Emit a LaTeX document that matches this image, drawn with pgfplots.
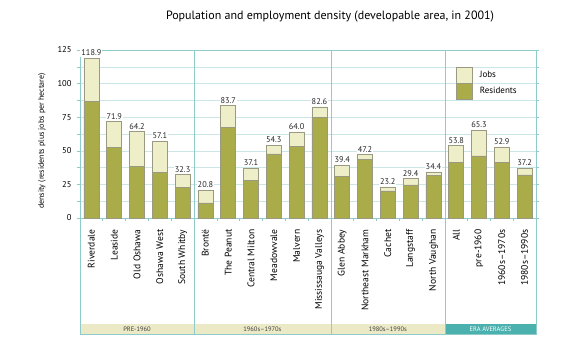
\documentclass[border=0pt]{standalone}
\usepackage{pgfplots}
\pgfplotsset{compat=1.18}
\usepackage{pgfplotstable}
\usepackage{fontspec}
\setmainfont{PT Sans}
\definecolor{res}{HTML}{A9AC48}
\definecolor{jobs}{HTML}{EEEEC8}
\definecolor{edge}{HTML}{9A9A82}
\definecolor{gridc}{HTML}{CBE6E6}
\definecolor{axisc}{HTML}{8ECBCB}
\definecolor{band}{HTML}{ECEAC6}
\definecolor{teal}{HTML}{4AB1AE}
\pgfplotsset{boxlegend/.style={legend image code/.code={\draw[##1] (0pt,-7.8pt) rectangle (16pt,7.8pt); \path (23pt,0pt);}}}
\pgfplotstableread{
x res total
0 86.6 118.9
1 52.4 71.9
2 38.6 64.2
3 33.7 57.1
4 22.9 32.3
5 11.3 20.8
6 67.6 83.7
7 27.8 37.1
8 47.7 54.3
9 53.4 64.0
10 74.8 82.6
11 31.2 39.4
12 43.5 47.2
13 20.1 23.2
14 24.6 29.4
15 31.5 34.4
16 41.5 53.8
17 46.2 65.3
18 41.3 52.9
19 32.0 37.2
}\data
\begin{document}
\begin{tikzpicture}
\begin{axis}[
  scale only axis, width=456pt, height=168pt,
  xmin=-0.5, xmax=19.5, ymin=0, ymax=125,
  clip=false,
  ybar, bar width=15pt,
  /pgf/number format/assume math mode=true,
  axis line style={axisc, line width=0.6pt},
  ytick={0,25,...,125},
  minor ytick={12.5,37.5,...,112.5},
  ymajorgrids, yminorgrids,
  grid style={gridc, line width=0.6pt},
  minor grid style={gridc, line width=0.6pt},
  tick align=outside,
  ytick pos=both,
  yticklabel pos=left,
  major tick length=3pt, minor tick length=3pt,
  tick style={axisc, line width=0.6pt},
  yticklabel style={font=\fontsize{8.5}{10}\selectfont, xshift=-2pt},
  xtick={0,...,19},
  xtick pos=lower,
  major x tick style={draw=none},
  minor xtick={0.5,1.5,...,18.5},
  xticklabels={Riverdale,Leaside,Old Oshawa,Oshawa West,South Whitby,Brontë,The Peanut,Central Milton,Meadowvale,Malvern,Mississauga Valleys,Glen Abbey,Northeast Markham,Cachet,Langstaff,North Vaughan,All,pre-1960,1960s–1970s,1980s–1990s},
  xticklabel style={yshift=-5pt, rotate=90, anchor=east, font=\fontsize{9.6}{11}\selectfont},
  legend style={at={(rel axis cs:0.825,0.899)}, anchor=north west, draw=none, fill=none,
    inner sep=0pt, row sep=0pt, column sep=0pt,
    nodes={inner sep=0pt, font=\fontsize{9}{10}\selectfont, anchor=west}},
]
\addplot[fill=jobs, draw=edge, line width=0.5pt, boxlegend, bar shift=0pt,
  point meta=explicit,
  nodes near coords={\pgfmathprintnumber[fixed,zerofill,precision=1]{\pgfplotspointmeta}},
  nodes near coords style={font=\fontsize{8.3}{9}\selectfont, fill=white, inner sep=1pt, anchor=south, yshift=1pt, text=black!85}]
  table[x=x, y=total, meta=total] {\data};
\addlegendentry{Jobs}
\addplot[fill=res, draw=edge, line width=0.5pt, boxlegend, bar shift=0pt]
  table[x=x, y=res] {\data};
\addlegendentry{Residents}
\end{axis}
% group bands and separators (22.8pt per category)
\fill[band] ([yshift=-106pt]current axis.south west) rectangle ([xshift=364.8pt,yshift=-116pt]current axis.south west);
\fill[teal] ([xshift=364.8pt,yshift=-106pt]current axis.south west) rectangle ([yshift=-116pt]current axis.south east);
\draw[axisc, line width=0.6pt] ([xshift=114pt]current axis.north west) -- ([xshift=114pt,yshift=-116pt]current axis.south west);
\draw[axisc, line width=0.6pt] ([xshift=250.8pt]current axis.north west) -- ([xshift=250.8pt,yshift=-116pt]current axis.south west);
\draw[axisc, line width=0.6pt] ([xshift=364.8pt]current axis.north west) -- ([xshift=364.8pt,yshift=-116pt]current axis.south west);
\draw[axisc, line width=0.6pt] (current axis.south west) -- ([yshift=-116pt]current axis.south west) -- ([yshift=-116pt]current axis.south east) -- (current axis.south east);
\node[font=\fontsize{6.5}{7}\selectfont, text=black!75] at ([xshift=57pt,yshift=-111pt]current axis.south west) {PRE-1960};
\node[font=\fontsize{6.5}{7}\selectfont, text=black!75] at ([xshift=182.4pt,yshift=-111pt]current axis.south west) {1960s–1970s};
\node[font=\fontsize{6.5}{7}\selectfont, text=black!75] at ([xshift=307.8pt,yshift=-111pt]current axis.south west) {1980s–1990s};
\node[font=\fontsize{6.5}{7}\selectfont, text=white] at ([xshift=410.4pt,yshift=-111pt]current axis.south west) {ERA AVERAGES};
\node[rotate=90, font=\fontsize{8}{10}\selectfont] at ([xshift=-38pt,yshift=-7pt]current axis.west) {density (residents plus jobs per hectare)};
\node[font=\fontsize{12}{14}\selectfont] at ([xshift=250pt,yshift=33pt]current axis.north west) {Population and employment density (developable area, in 2001)};
\path[use as bounding box] ([xshift=-80pt,yshift=-144pt]current axis.south west) rectangle ([xshift=44pt,yshift=50pt]current axis.north east);
\end{tikzpicture}
\end{document}
